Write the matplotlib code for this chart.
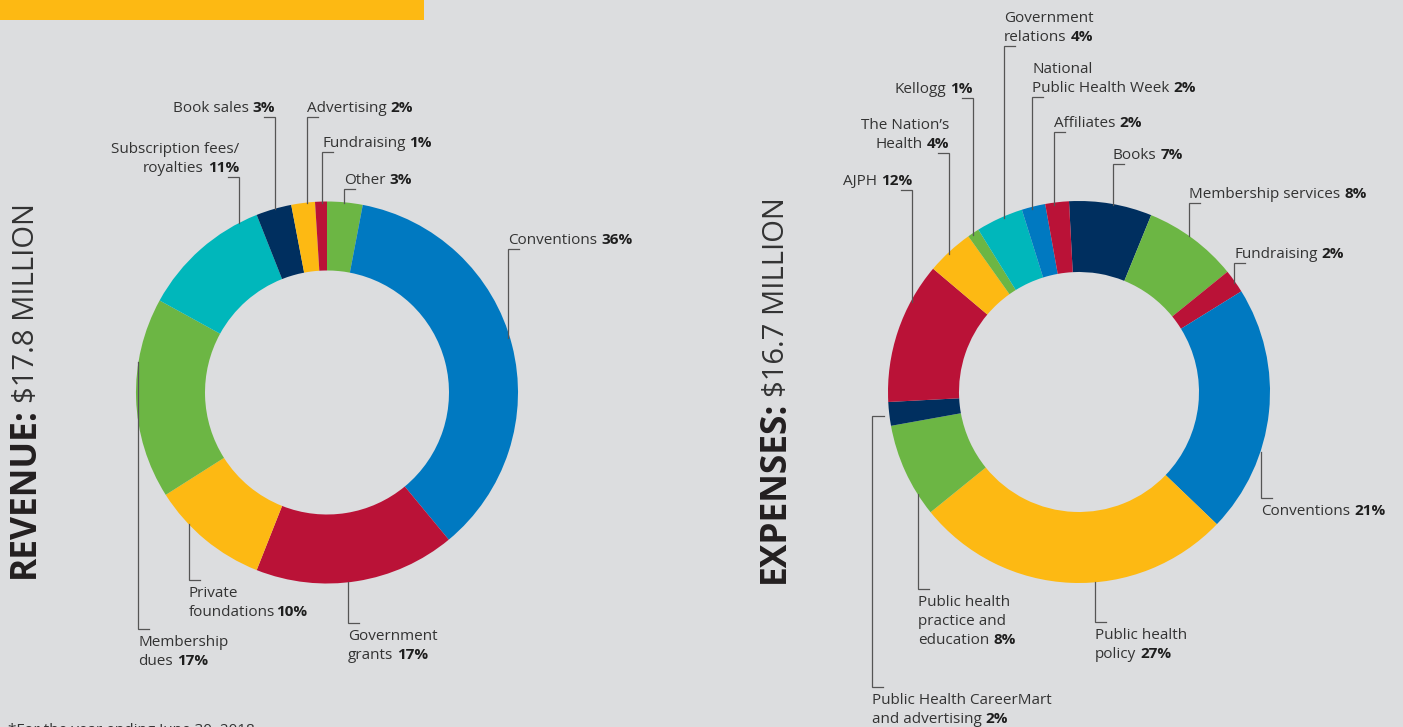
import matplotlib
matplotlib.use('Agg')
import matplotlib.pyplot as plt
from matplotlib.patches import Rectangle

W, H = 1403, 727
BG = '#dcdddf'
FAM = ['Open Sans', 'DejaVu Sans']
FS = 11
TFS_B = 25.5
TFS_R = 21
TXT = '#333333'
BOLDC = '#1e1e1e'
LINEC = '#555555'

BLUE, RED, YEL, GRN, TEAL, NAVY = '#0079c1', '#ba1237', '#fdb913', '#6cb644', '#00b7bb', '#002f5f'

# ---------------- data ----------------
rev_labels = ['Other', 'Conventions', 'Government grants', 'Private foundations',
              'Membership dues', 'Subscription fees/royalties', 'Book sales',
              'Advertising', 'Fundraising']
rev_values = [3, 36, 17, 10, 17, 11, 3, 2, 1]
rev_colors = [GRN, BLUE, RED, YEL, GRN, TEAL, NAVY, YEL, RED]

exp_labels = ['Books', 'Membership services', 'Fundraising', 'Conventions',
              'Public health policy', 'Public health practice and education',
              'Public Health CareerMart and advertising', 'AJPH', "The Nation's Health",
              'Kellogg', 'Government relations', 'National Public Health Week', 'Affiliates']
exp_values = [7, 8, 2, 21, 27, 8, 2, 12, 4, 1, 4, 2, 2]
exp_colors = [NAVY, GRN, RED, BLUE, YEL, GRN, NAVY, RED, YEL, GRN, TEAL, BLUE, RED]

rev_title = ('REVENUE:', '$17.8 MILLION')
exp_title = ('EXPENSES:', '$16.7 MILLION')
footnote = '*For the year ending June 30, 2018'

# label layout: (text lines, pct, line x, tick y, ring y, align, placement, space)
rev_layout = [
    (['Other'], '3%', 344, 189, 203, 'left', 'above', True),
    (['Conventions'], '36%', 508, 249, 338, 'left', 'above', True),
    (['Government', 'grants'], '17%', 348, 623, 582, 'left', 'below', True),
    (['Private', 'foundations'], '10%', 189, 580, 524, 'left', 'below', False),
    (['Membership', 'dues'], '17%', 138, 629, 362, 'left', 'below', True),
    (['Subscription fees/', 'royalties'], '11%', 239, 177, 223, 'right', 'above', True),
    (['Book sales'], '3%', 275, 117, 209, 'right', 'above', True),
    (['Advertising'], '2%', 307, 117, 203, 'left', 'above', True),
    (['Fundraising'], '1%', 322, 152, 203, 'left', 'above', True),
]
exp_layout = [
    (['Books'], '7%', 1113, 164, 205, 'left', 'above', True),
    (['Membership services'], '8%', 1189, 203, 236, 'left', 'above', True),
    (['Fundraising'], '2%', 1234, 263, 283, 'left', 'above', True),
    (['Conventions'], '21%', 1261, 498, 452, 'left', 'below', True),
    (['Public health', 'policy'], '27%', 1095, 622, 582, 'left', 'below', True),
    (['Public health', 'practice and', 'education'], '8%', 918, 589, 494, 'left', 'below', True),
    (['Public Health CareerMart', 'and advertising'], '2%', 872, 687, None, 'left', 'below', True),
    (['AJPH'], '12%', 912, 190, 302, 'right', 'above', True),
    (['The Nation\u2019s', 'Health'], '4%', 949, 153, 254, 'right', 'above', True),
    (['Kellogg'], '1%', 973, 98, 235, 'right', 'above', True),
    (['Government', 'relations'], '4%', 1004, 46, 218, 'left', 'above', True),
    (['National', 'Public Health Week'], '2%', 1032, 97, 209, 'left', 'above', True),
    (['Affiliates'], '2%', 1054, 132, 205, 'left', 'above', True),
]

# ---------------- figure ----------------
fig = plt.figure(figsize=(W / 100, H / 100), dpi=100, facecolor=BG)
ax = fig.add_axes([0, 0, 1, 1])
ax.set_facecolor(BG)

ax.pie(rev_values, colors=rev_colors, startangle=-90, counterclock=True,
       center=(327, 392.5), radius=191, frame=True,
       wedgeprops=dict(width=69, linewidth=0))
ax.pie(exp_values, colors=exp_colors, startangle=-93, counterclock=True,
       center=(1079, 392), radius=191, frame=True,
       wedgeprops=dict(width=71, linewidth=0))

ax.set_xlim(0, W)
ax.set_ylim(H, 0)
ax.set_aspect('auto')
ax.axis('off')

ax.add_patch(Rectangle((0, 0), 424, 20, facecolor=YEL, edgecolor='none'))

renderer = fig.canvas.get_renderer()


def twidth(s, weight='normal', size=FS):
    t = ax.text(0, 0, s, fontsize=size, fontweight=weight, family=FAM)
    w = t.get_window_extent(renderer).width
    t.remove()
    return w


SPACE = twidth('a a') - twidth('aa')


def draw_line(x, y, reg, bold, align, space):
    gap = SPACE if space else 0.5
    if align == 'left':
        ax.text(x, y, reg, fontsize=FS, family=FAM, color=TXT, ha='left', va='baseline')
        if bold:
            ax.text(x + twidth(reg) + gap, y, bold, fontsize=FS, family=FAM,
                    fontweight='bold', color=BOLDC, ha='left', va='baseline')
    else:
        if bold:
            ax.text(x, y, bold, fontsize=FS, family=FAM, fontweight='bold',
                    color=BOLDC, ha='right', va='baseline')
            x = x - twidth(bold, 'bold') - gap
        ax.text(x, y, reg, fontsize=FS, family=FAM, color=TXT, ha='right', va='baseline')


def draw_labels(layout):
    for lines, pct, x, ty, ry, align, place, space in layout:
        n = len(lines)
        if place == 'above':
            base0 = ty - 5 - 19 * (n - 1)
        else:
            base0 = ty + 17
        for i, ln in enumerate(lines):
            draw_line(x, base0 + 19 * i, ln, pct if i == n - 1 else None, align, space)
        d = 11 if align == 'left' else -11
        if ry is None:
            ax.plot([x + 12, x, x, x + d], [416, 416, ty, ty], color=LINEC, lw=0.9,
                    solid_joinstyle='miter')
        else:
            ax.plot([x + d, x, x], [ty, ty, ry], color=LINEC, lw=0.9,
                    solid_joinstyle='miter')


draw_labels(rev_layout)
draw_labels(exp_layout)


def draw_title(x, y, title):
    b, r = title
    ax.text(x, y, b, fontsize=TFS_B, family=FAM, fontweight='bold', color='#231f20',
            rotation=90, rotation_mode='anchor', ha='left', va='baseline')
    L = twidth(b, 'bold', TFS_B)
    ax.text(x, y - L - 4, r, fontsize=TFS_R, family=FAM, color='#333333',
            rotation=90, rotation_mode='anchor', ha='left', va='baseline')


draw_title(34, 578, rev_title)
draw_title(784, 583, exp_title)

ax.text(8, 734, footnote, fontsize=FS, family=FAM, color=TXT, ha='left', va='baseline')

fig.savefig('out.png', dpi=100, facecolor=BG)
